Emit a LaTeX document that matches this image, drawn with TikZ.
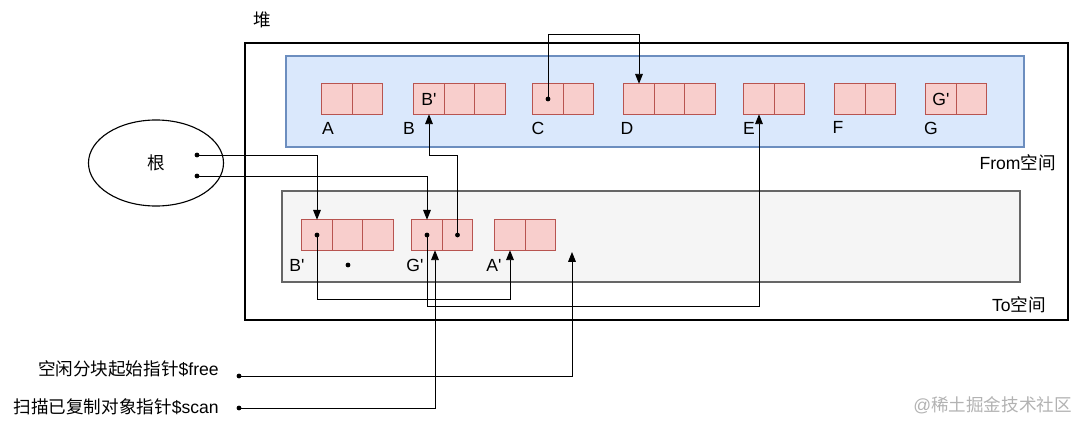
\documentclass[tikz,border=0pt]{standalone}
\usepackage{fontspec}
\setmainfont{Liberation Sans}
\newfontfamily\cjk{Noto Sans CJK SC}
\usepackage{tikz}
\usetikzlibrary{arrows.meta,shapes.geometric,positioning,calc}
\definecolor{fromfill}{HTML}{DAE8FC}
\definecolor{fromdraw}{HTML}{6C8EBF}
\definecolor{tofill}{HTML}{F5F5F5}
\definecolor{todraw}{HTML}{666666}
\definecolor{cellfill}{HTML}{F8CECC}
\definecolor{celldraw}{HTML}{B85450}
\newcommand{\pr}{\textquotesingle}
\tikzset{
  cell/.style={draw=celldraw, fill=cellfill, line width=0.8pt, minimum size=0.7625cm, inner sep=0pt, outer sep=0pt},
  ptr/.style={circle, fill=black, inner sep=0pt, minimum size=1.2mm},
  ref/.style={-{Triangle[length=7pt,width=5.5pt]}, line width=0.6pt},
  lbl/.style={font=\fontsize{12.5}{15}\selectfont, inner sep=0pt}
}

\begin{document}
\begin{tikzpicture}[x=0.025cm, y=-0.025cm]
  \useasboundingbox (0,0) rectangle (1080,422);

  % heap with from/to spaces
  \draw[line width=1.2pt] (245,43) rectangle (1068,320);
  \draw[draw=fromdraw, fill=fromfill, line width=0.8pt] (286,56) rectangle (1024,147);
  \draw[draw=todraw, fill=tofill, line width=0.8pt] (282,191) rectangle (1020,282);
  \node[lbl] (heap) at (262,20) {\cjk 堆};
  \node[lbl, anchor=east] (fromlbl) at (1056,163) {From{\cjk 空间}};
  \node[lbl, anchor=east] (tolbl) at (1046,305) {To{\cjk 空间}};

  % objects
  \foreach \name/\x/\y/\n in {A/337/99/2, B/429/99/3, C/548/99/2, D/639/99/3,
      E/759/99/2, F/850/99/2, G/941/99/2, Bp/317/235/3, Gp/427/235/2, Ap/510/235/2}
    \foreach \i in {1,...,\n}
      \node[cell] (\name\i) at ({\x+(\i-1)*30.5},\y) {};

  \node[lbl] (fwdB) at (B1) {B\pr};
  \node[lbl] (fwdG) at (G1) {G\pr};

  \node[lbl] (labA) at (328,128) {A};
  \node[lbl] (labB) at (409,128) {B};
  \node[lbl] (labC) at (538,128) {C};
  \node[lbl] (labD) at (627,128) {D};
  \node[lbl] (labE) at (749,128) {E};
  \node[lbl] (labF) at (838,127) {F};
  \node[lbl] (labG) at (931,128) {G};
  \node[lbl] (labBp) at (297,265) {B\pr};
  \node[lbl] (labGp) at (415,265) {G\pr};
  \node[lbl] (labAp) at (494,265) {A\pr};

  % root set
  \node[ellipse, draw, line width=0.8pt, minimum width=3.375cm, minimum height=2.15cm,
    font=\fontsize{12.5}{15}\selectfont] (root) at (156,163) {\cjk 根};
  \node[ptr] (r1) at (197,155) {};
  \node[ptr] (r2) at (197,176) {};

  % pointers
  \node[ptr] (cdot) at (C1) {};
  \node[ptr] (bpdot) at (Bp1) {};
  \node[ptr] (gpdot1) at (Gp1) {};
  \node[ptr] (gpdot2) at (Gp2) {};
  \node[ptr] (spare) at (348,265) {};

  \draw[ref] (cdot.center) -- ++(0,-65) -| (D1.north);
  \draw[ref] (r1.center) -| (Bp1.north);
  \draw[ref] (r2.center) -| (Gp1.north);
  \draw[ref] (bpdot.center) -- ++(0,64) -| (Ap1.south);
  \draw[ref] (gpdot1.center) -- ++(0,71) -| (E1.south);
  \draw[ref] (gpdot2.center) -- ++(0,-80) -| (B1.south);

  % free and scan
  \node[lbl, anchor=east] (freelbl) at (219,369) {{\cjk 空闲分块起始指针}\$free};
  \node[lbl, anchor=east] (scanlbl) at (219,407) {{\cjk 扫描已复制对象指针}\$scan};
  \node[ptr] (freedot) at (239,376) {};
  \node[ptr] (scandot) at (239,408) {};
  \coordinate (freetip) at (572,252);
  \draw[ref] (freedot.center) -| (freetip);
  \draw[ref] (scandot.center) -| ($(Gp1.south)+(8,0)$);

  \node[lbl, anchor=west, text=black!30] (mark) at (913,405) {@{\cjk 稀土掘金技术社区}};
\end{tikzpicture}
\end{document}
